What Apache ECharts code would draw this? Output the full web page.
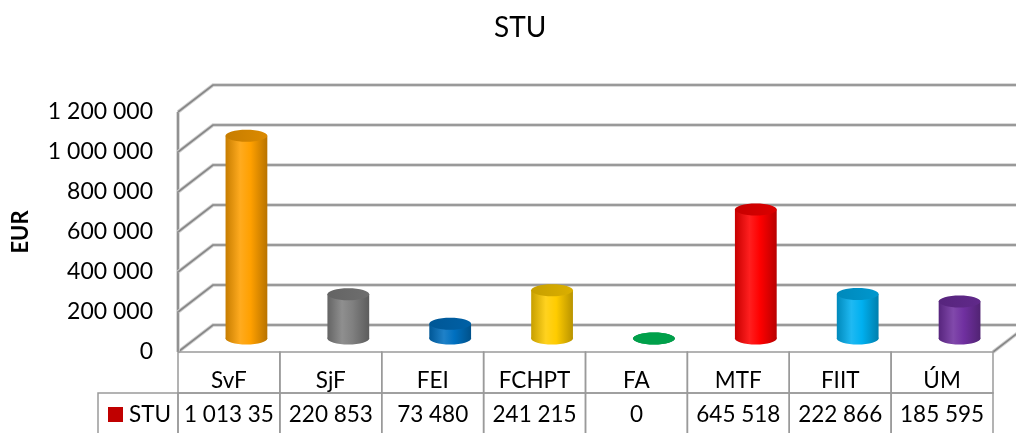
<!DOCTYPE html>
<html><head><meta charset="utf-8">
<script src="https://cdn.jsdelivr.net/npm/echarts@6/dist/echarts.min.js"></script>
<style>html,body{margin:0;padding:0;background:#fff}#c{width:1016px;height:433px}</style>
</head><body><div id="c"></div><script>
const chartTitle = 'STU';
const seriesName = 'STU';
const yAxisName = 'EUR';
const categories = ['SvF', 'SjF', 'FEI', 'FCHPT', 'FA', 'MTF', 'FIIT', 'ÚM'];
const values = [1013350, 220853, 73480, 241215, 0, 645518, 222866, 185595];
const colors = ['#FFA000', '#808080', '#0070C0', '#FFCC00', '#00A04A', '#FF0000', '#00B0F0', '#7030A0'];
const yTicks = [0, 200000, 400000, 600000, 800000, 1000000, 1200000];
const legendColor = '#C00000';

const FONT = 'Lato';
const DX = 35, DY = -27;

function fmt(v) { return String(v).replace(/\B(?=(\d{3})+(?!\d))/g, ' '); }
function hexToRgb(h) { h = h.replace('#', ''); return [parseInt(h.substr(0,2),16), parseInt(h.substr(2,2),16), parseInt(h.substr(4,2),16)]; }
function rgb(a) { return 'rgb(' + a.map(x => Math.max(0, Math.min(255, Math.round(x)))).join(',') + ')'; }
function shade(h, f) { return rgb(hexToRgb(h).map(c => c * f)); }
function tint(h, f) { return rgb(hexToRgb(h).map(c => c + (255 - c) * f)); }

const chart = echarts.init(document.getElementById('c'), null, {renderer: 'canvas'});

const wallStyleOuter = {stroke: '#d0d0d0', lineWidth: 3.6, fill: null};
const wallStyleInner = {stroke: '#878787', lineWidth: 1.7, fill: null};

function twoLines(type, shape) {
  return [
    {type: type, shape: shape, style: wallStyleOuter},
    {type: type, shape: shape, style: wallStyleInner}
  ];
}

const option = {
  animation: false,
  backgroundColor: '#fff',
  title: {
    text: chartTitle, left: 489, top: 9,
    textStyle: {fontFamily: FONT, fontSize: 28, fontWeight: 'normal', color: '#000'}
  },
  grid: {left: 178, right: 23, top: 112, bottom: 81, containLabel: false},
  xAxis: {
    type: 'category', data: categories,
    axisLine: {show: false}, axisTick: {show: false}, axisLabel: {show: false}, splitLine: {show: false}
  },
  yAxis: {
    type: 'value', min: 0, max: yTicks[yTicks.length - 1], interval: yTicks[1] - yTicks[0],
    axisLine: {show: false}, axisTick: {show: false}, splitLine: {show: false},
    axisLabel: {formatter: fmt, margin: 25, fontFamily: FONT, fontSize: 23, color: '#000'},
    name: yAxisName, nameLocation: 'middle', nameRotate: 90, nameGap: 146,
    nameTextStyle: {fontFamily: FONT, fontSize: 22, fontWeight: 'bold', color: '#000'}
  },
  series: [
    {
      type: 'custom', name: 'walls', silent: true, z: 1,
      data: yTicks.map(v => [0, v]),
      encode: {x: 0, y: 1},
      renderItem: function (params, api) {
        const cs = params.coordSys;
        const v = api.value(1);
        const y = api.coord([0, v])[1];
        const x0 = cs.x, x1 = cs.x + cs.width;
        let children = twoLines('polyline', {points: [[x0, y], [x0 + DX, y + DY], [x1 + DX + 40, y + DY]]});
        if (v === 0) {
          const yTop = api.coord([0, yTicks[yTicks.length - 1]])[1];
          children = children.concat(twoLines('line', {x1: x0, y1: y, x2: x0, y2: yTop}));
          children = children.concat(twoLines('line', {x1: x1, y1: y, x2: x1 + DX, y2: y + DY}));
        }
        return {type: 'group', children: children};
      }
    },
    {
      type: 'custom', name: seriesName, silent: true, z: 2,
      data: values.map((v, i) => [i, v]),
      encode: {x: 0, y: 1},
      renderItem: function (params, api) {
        const i = api.value(0), v = api.value(1);
        const top = api.coord([i, v]);
        const base = api.coord([i, 0]);
        const bw = api.size([1, 0])[0];
        const r = bw * 0.205;
        const ry = 6;
        const cx = top[0] + DX / 2;
        const ty = top[1] + DY / 2;
        const by = base[1] + DY / 2;
        const c = colors[i];
        const grad = {
          type: 'linear', x: 0, y: 0, x2: 1, y2: 0,
          colorStops: [
            {offset: 0, color: shade(c, 0.78)},
            {offset: 0.35, color: tint(c, 0.12)},
            {offset: 0.6, color: c},
            {offset: 1, color: shade(c, 0.72)}
          ]
        };
        const topFill = {
          type: 'linear', x: 0, y: 0, x2: 1, y2: 0,
          colorStops: [
            {offset: 0, color: shade(c, 0.78)},
            {offset: 1, color: shade(c, 0.86)}
          ]
        };
        return {
          type: 'group',
          children: [
            {type: 'rect', shape: {x: cx - r, y: ty, width: 2 * r, height: Math.max(0, by - ty)}, style: {fill: grad}},
            {type: 'ellipse', shape: {cx: cx, cy: by, rx: r, ry: ry}, style: {fill: grad}},
            {type: 'ellipse', shape: {cx: cx, cy: ty, rx: r, ry: ry}, style: {fill: v === 0 ? c : topFill}}
          ]
        };
      }
    },
    {
      type: 'custom', name: 'table', silent: true, z: 3,
      data: categories.map((c, i) => [i, 0]),
      encode: {x: 0, y: 1},
      renderItem: function (params, api) {
        const i = api.value(0);
        const p = api.coord([i, 0]);
        const bw = api.size([1, 0])[0];
        const left = p[0] - bw / 2;
        const y0 = p[1];
        const h1 = 41;
        const cellStyle = {fill: null, stroke: '#9a9a9a', lineWidth: 1.5};
        const children = [
          {type: 'rect', shape: {x: left, y: y0, width: bw, height: h1}, style: cellStyle},
          {type: 'rect', shape: {x: left, y: y0 + h1, width: bw, height: 60}, style: cellStyle},
          {type: 'text', style: {text: categories[i], x: p[0], y: y0 + 29, align: 'center', verticalAlign: 'middle',
            font: '22.5px ' + FONT, fill: '#000'}},
          {type: 'text', style: {text: fmt(values[i]), x: p[0], y: y0 + 63, align: 'center', verticalAlign: 'middle',
            font: '22.5px ' + FONT, fill: '#000', width: bw - 6, overflow: 'truncate', ellipsis: ''}}
        ];
        if (i === 0) {
          children.push(
            {type: 'rect', shape: {x: left - 80, y: y0 + h1, width: 80, height: 60}, style: cellStyle},
            {type: 'rect', shape: {x: left - 70, y: y0 + 55, width: 15, height: 15}, style: {fill: legendColor}},
            {type: 'text', style: {text: seriesName, x: left - 49, y: y0 + 63, align: 'left', verticalAlign: 'middle',
              font: '22.5px ' + FONT, fill: '#000'}}
          );
        }
        return {type: 'group', children: children};
      }
    }
  ]
};
chart.setOption(option);
</script></body></html>
